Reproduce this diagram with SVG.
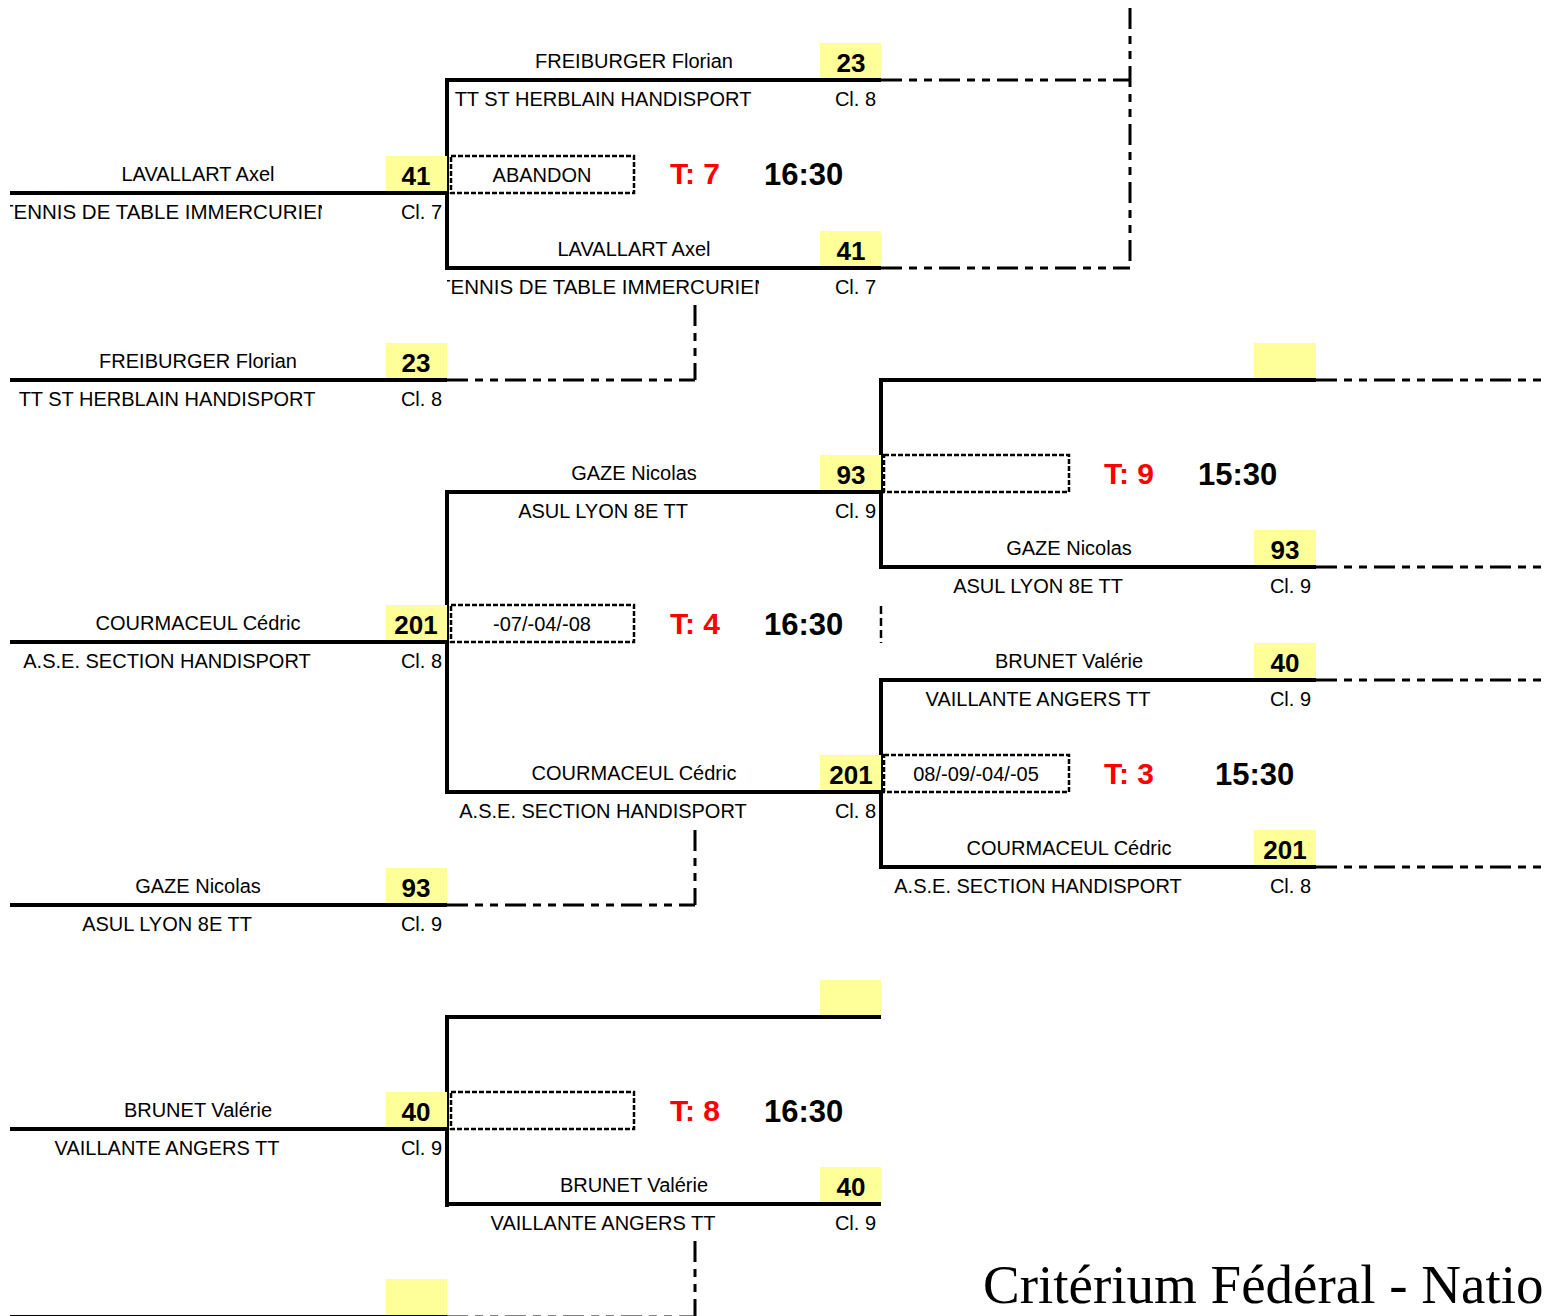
<svg xmlns="http://www.w3.org/2000/svg" width="1548" height="1316" viewBox="0 0 1548 1316">
<style>
.ln{stroke:#000;stroke-width:4;fill:none}
.dd{stroke:#000;stroke-width:3;stroke-dasharray:21 7 8 7 8 7;fill:none}
.vd{stroke:#000;stroke-width:2.5;stroke-dasharray:8 4;fill:none}
.bx{fill:none;stroke:#000;stroke-width:2.5;stroke-dasharray:5 2}
.yl{fill:#FFFF99}
text{font-family:"Liberation Sans",Arial,sans-serif;font-size:20px;fill:#000}
.nm{text-anchor:middle}
.cl{text-anchor:end}
.num{font-weight:bold;font-size:26px;text-anchor:middle}
.tb{fill:#FF0000;font-weight:bold;font-size:30px}
.tm{font-weight:bold;font-size:31px}
.title{font-family:"Liberation Serif","Times New Roman",serif;font-size:55px}
</style>
<defs>
<clipPath id="clipL"><rect x="10" y="195" width="312" height="35"/></clipPath>
<clipPath id="clipR"><rect x="447" y="270" width="312" height="35"/></clipPath>
</defs>
<rect width="1548" height="1316" fill="#fff"/>

<g id="connectors">
<line class="ln" x1="447" y1="78" x2="447" y2="270"/>
<line class="ln" x1="447" y1="490" x2="447" y2="794"/>
<line class="ln" x1="447" y1="1015" x2="447" y2="1207"/>
<line class="ln" x1="881" y1="378" x2="881" y2="569"/>
<line class="ln" x1="881" y1="678" x2="881" y2="869"/>
<line class="dd" x1="881" y1="80" x2="1130" y2="80"/>
<line class="dd" x1="881" y1="268" x2="1130" y2="268"/>
<line class="dd" x1="1130" y1="8" x2="1130" y2="268"/>
<line class="dd" x1="447" y1="380" x2="695" y2="380"/>
<line class="dd" x1="695" y1="305" x2="695" y2="380"/>
<line class="dd" x1="447" y1="905" x2="695" y2="905"/>
<line class="dd" x1="695" y1="830" x2="695" y2="905"/>
<line class="dd" x1="447" y1="1317" x2="695" y2="1317"/>
<line class="dd" x1="695" y1="1241" x2="695" y2="1317"/>
<line class="dd" x1="1316" y1="380" x2="1548" y2="380"/>
<line class="dd" x1="1316" y1="567" x2="1548" y2="567"/>
<line class="dd" x1="1316" y1="680" x2="1548" y2="680"/>
<line class="dd" x1="1316" y1="867" x2="1548" y2="867"/>
<line class="vd" x1="881" y1="606" x2="881" y2="643"/>
</g>

<!-- Round 1 -->
<g id="r1-lavallart">
<rect class="yl" x="386" y="156" width="61" height="37"/>
<line class="ln" x1="10" y1="193" x2="447" y2="193"/>
<text class="nm" x="198" y="181">LAVALLART Axel</text>
<text class="num" x="416" y="185">41</text>
<text x="1" y="219" style="font-size:20.5px" clip-path="url(#clipL)">TENNIS DE TABLE IMMERCURIEN</text>
<text class="cl" x="442" y="219">Cl. 7</text>
</g>
<g id="r1-freiburger">
<rect class="yl" x="386" y="343" width="61" height="37"/>
<line class="ln" x1="10" y1="380" x2="447" y2="380"/>
<text class="nm" x="198" y="368">FREIBURGER Florian</text>
<text class="num" x="416" y="372">23</text>
<text class="nm" x="167" y="406">TT ST HERBLAIN HANDISPORT</text>
<text class="cl" x="442" y="406">Cl. 8</text>
</g>
<g id="r1-courmaceul">
<rect class="yl" x="386" y="605" width="61" height="37"/>
<line class="ln" x1="10" y1="642" x2="447" y2="642"/>
<text class="nm" x="198" y="630">COURMACEUL Cédric</text>
<text class="num" x="416" y="634">201</text>
<text class="nm" x="167" y="668">A.S.E. SECTION HANDISPORT</text>
<text class="cl" x="442" y="668">Cl. 8</text>
</g>
<g id="r1-gaze">
<rect class="yl" x="386" y="868" width="61" height="37"/>
<line class="ln" x1="10" y1="905" x2="447" y2="905"/>
<text class="nm" x="198" y="893">GAZE Nicolas</text>
<text class="num" x="416" y="897">93</text>
<text class="nm" x="167" y="931">ASUL LYON 8E TT</text>
<text class="cl" x="442" y="931">Cl. 9</text>
</g>
<g id="r1-brunet">
<rect class="yl" x="386" y="1092" width="61" height="37"/>
<line class="ln" x1="10" y1="1129" x2="447" y2="1129"/>
<text class="nm" x="198" y="1117">BRUNET Valérie</text>
<text class="num" x="416" y="1121">40</text>
<text class="nm" x="167" y="1155">VAILLANTE ANGERS TT</text>
<text class="cl" x="442" y="1155">Cl. 9</text>
</g>
<g id="r1-empty">
<rect class="yl" x="386" y="1279" width="61" height="38"/>
<line class="ln" x1="10" y1="1317" x2="447" y2="1317"/>
</g>

<!-- Round 2 -->
<g id="m7">
<rect class="yl" x="820" y="43" width="61" height="37"/>
<line class="ln" x1="447" y1="80" x2="881" y2="80"/>
<text class="nm" x="634" y="68">FREIBURGER Florian</text>
<text class="num" x="851" y="72">23</text>
<text class="nm" x="603" y="106">TT ST HERBLAIN HANDISPORT</text>
<text class="cl" x="876" y="106">Cl. 8</text>
<rect class="bx" x="451" y="156" width="183" height="37"/>
<text class="nm" x="542" y="182">ABANDON</text>
<text class="tb" x="670" y="184">T: 7</text>
<text class="tm" x="764" y="185">16:30</text>
<rect class="yl" x="820" y="231" width="61" height="37"/>
<line class="ln" x1="447" y1="268" x2="881" y2="268"/>
<text class="nm" x="634" y="256">LAVALLART Axel</text>
<text class="num" x="851" y="260">41</text>
<text x="438" y="294" style="font-size:20.5px" clip-path="url(#clipR)">TENNIS DE TABLE IMMERCURIEN</text>
<text class="cl" x="876" y="294">Cl. 7</text>
</g>
<g id="m4">
<rect class="yl" x="820" y="455" width="61" height="37"/>
<line class="ln" x1="447" y1="492" x2="881" y2="492"/>
<text class="nm" x="634" y="480">GAZE Nicolas</text>
<text class="num" x="851" y="484">93</text>
<text class="nm" x="603" y="518">ASUL LYON 8E TT</text>
<text class="cl" x="876" y="518">Cl. 9</text>
<rect class="bx" x="451" y="605" width="183" height="37"/>
<text class="nm" x="542" y="631">-07/-04/-08</text>
<text class="tb" x="670" y="634">T: 4</text>
<text class="tm" x="764" y="635">16:30</text>
<rect class="yl" x="820" y="755" width="61" height="37"/>
<line class="ln" x1="447" y1="792" x2="881" y2="792"/>
<text class="nm" x="634" y="780">COURMACEUL Cédric</text>
<text class="num" x="851" y="784">201</text>
<text class="nm" x="603" y="818">A.S.E. SECTION HANDISPORT</text>
<text class="cl" x="876" y="818">Cl. 8</text>
</g>
<g id="m8">
<rect class="yl" x="820" y="980" width="61" height="37"/>
<line class="ln" x1="447" y1="1017" x2="881" y2="1017"/>
<rect class="bx" x="451" y="1092" width="183" height="37"/>
<text class="tb" x="670" y="1121">T: 8</text>
<text class="tm" x="764" y="1122">16:30</text>
<rect class="yl" x="820" y="1167" width="61" height="37"/>
<line class="ln" x1="447" y1="1204" x2="881" y2="1204"/>
<text class="nm" x="634" y="1192">BRUNET Valérie</text>
<text class="num" x="851" y="1196">40</text>
<text class="nm" x="603" y="1230">VAILLANTE ANGERS TT</text>
<text class="cl" x="876" y="1230">Cl. 9</text>
</g>

<!-- Round 3 -->
<g id="m9">
<rect class="yl" x="1254" y="343" width="62" height="37"/>
<line class="ln" x1="881" y1="380" x2="1316" y2="380"/>
<rect class="bx" x="884" y="455" width="185" height="37"/>
<text class="tb" x="1104" y="484">T: 9</text>
<text class="tm" x="1198" y="485">15:30</text>
<rect class="yl" x="1254" y="530" width="62" height="37"/>
<line class="ln" x1="881" y1="567" x2="1316" y2="567"/>
<text class="nm" x="1069" y="555">GAZE Nicolas</text>
<text class="num" x="1285" y="559">93</text>
<text class="nm" x="1038" y="593">ASUL LYON 8E TT</text>
<text class="cl" x="1311" y="593">Cl. 9</text>
</g>
<g id="m3">
<rect class="yl" x="1254" y="643" width="62" height="37"/>
<line class="ln" x1="881" y1="680" x2="1316" y2="680"/>
<text class="nm" x="1069" y="668">BRUNET Valérie</text>
<text class="num" x="1285" y="672">40</text>
<text class="nm" x="1038" y="706">VAILLANTE ANGERS TT</text>
<text class="cl" x="1311" y="706">Cl. 9</text>
<rect class="bx" x="884" y="755" width="185" height="37"/>
<text class="nm" x="976" y="781">08/-09/-04/-05</text>
<text class="tb" x="1104" y="784">T: 3</text>
<text class="tm" x="1215" y="785">15:30</text>
<rect class="yl" x="1254" y="830" width="62" height="37"/>
<line class="ln" x1="881" y1="867" x2="1316" y2="867"/>
<text class="nm" x="1069" y="855">COURMACEUL Cédric</text>
<text class="num" x="1285" y="859">201</text>
<text class="nm" x="1038" y="893">A.S.E. SECTION HANDISPORT</text>
<text class="cl" x="1311" y="893">Cl. 8</text>
</g>

<g id="title">
<text class="title" x="983" y="1303">Critérium Fédéral - Natio</text>
</g>
</svg>
